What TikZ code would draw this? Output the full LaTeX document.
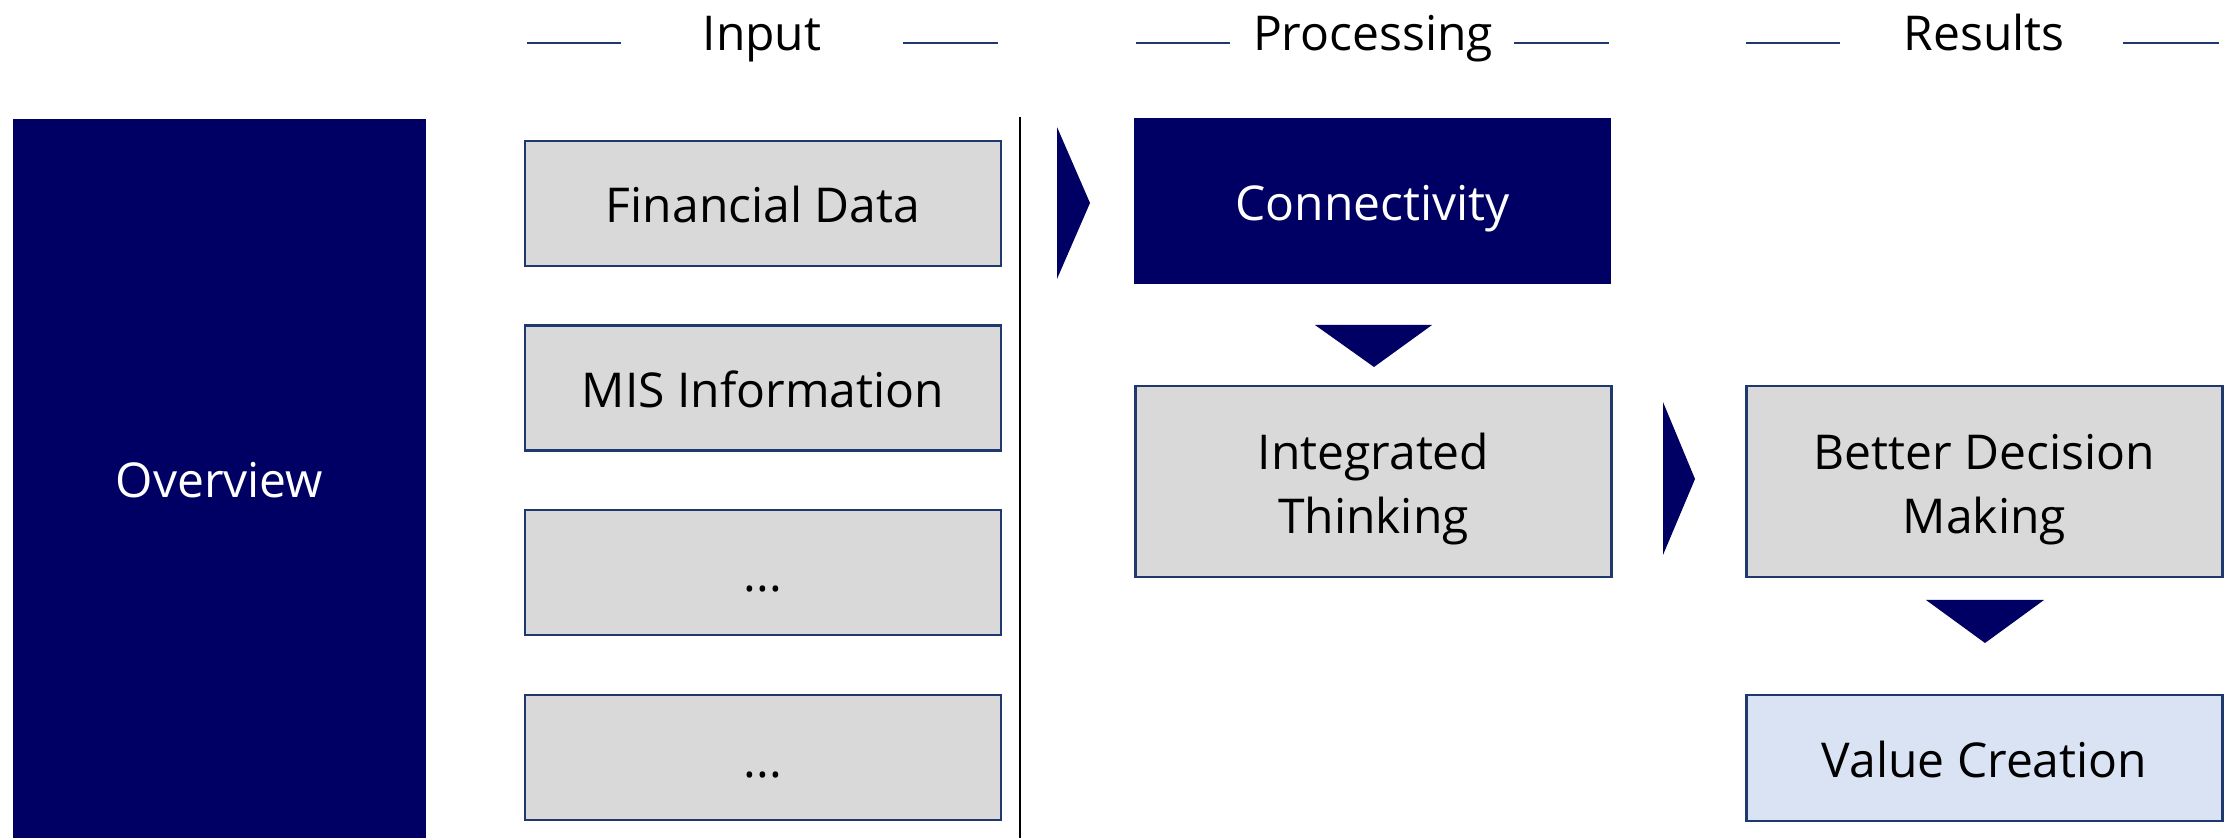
\documentclass[tikz,border=0pt]{standalone}
\usepackage{fontspec}
\setmainfont{Open Sans}
\usetikzlibrary{positioning}
\definecolor{navy}{RGB}{0,0,100}
\definecolor{boxgray}{RGB}{217,217,217}
\definecolor{boxline}{RGB}{31,56,110}
\definecolor{valueblue}{RGB}{218,227,243}
\tikzset{
        flownode/.style={rectangle, align=center, inner sep=0pt, text depth=0pt, text height=19.5pt, font=\fontsize{24}{32}\selectfont},
        % Two lines of text
        twolines/.style={text height=52pt},
        % Dark boxes
        node_dark/.style={flownode, fill=navy, text=white},
        % Grey boxes
        node_grey/.style={flownode, fill=boxgray, draw=boxline, line width=1.2pt, minimum width=238pt},
        % Result box
        node_value/.style={node_grey, fill=valueblue},
        % Column titles
        node_head/.style={inner sep=0pt, anchor=base, font=\fontsize{24}{32}\selectfont},
        head_line/.style={draw=boxline, line width=1.3pt},
        % Chevrons
        chevron/.style={fill=navy}
}
\begin{document}
\begin{tikzpicture}[x=0.5pt, y=-0.5pt]
    \useasboundingbox (0,0) rectangle (2233,838);
    % column titles
    \node[node_head] (input) at (762,51) {Input};
    \node[node_head] (proc) at (1373,51) {Processing};
    \node[node_head] (res) at (1984,51) {Results};
    \draw[head_line] (527,43) -- (621,43);
    \draw[head_line] (903,43) -- (998,43);
    \draw[head_line] (1136,43) -- (1230,43);
    \draw[head_line] (1514,43) -- (1609,43);
    \draw[head_line] (1746,43) -- (1840,43);
    \draw[head_line] (2123,43) -- (2219,43);
    % left block
    \node[node_dark, minimum width=206.5pt, minimum height=359.5pt] (overview) at (219.5,478.5) {Overview};
    % inputs
    \node[node_grey, minimum height=62.5pt] (fin) at (763,203.5) {Financial Data};
    \node[node_grey, minimum height=62.5pt] (mis) at (763,388) {MIS Information};
    \node[node_grey, minimum height=62.5pt] (more1) at (763,572.5) {...};
    \node[node_grey, minimum height=62.5pt] (more2) at (763,757.5) {...};
    \draw[line width=1pt] (1020,117) -- (1020,838);
    % processing
    \node[node_dark, minimum width=238.5pt, minimum height=83pt] (conn) at (1372.5,201) {Connectivity};
    \node[node_grey, twolines, minimum height=95.5pt] (integ) at (1373.5,481.5) {Integrated\\Thinking};
    % results
    \node[node_grey, twolines, minimum height=95.5pt] (better) at (1984.5,481.5) {Better Decision\\Making};
    \node[node_value, minimum height=63pt] (value) at (1984.5,758) {Value Creation};
    % chevrons
    \fill[chevron] (1057,127) -- (1090,203) -- (1057,279) -- cycle;
    \fill[chevron] (1315,325) -- (1432,325) -- (1374,367) -- cycle;
    \fill[chevron] (1663,402) -- (1695,479) -- (1663,555) -- cycle;
    \fill[chevron] (1926,600) -- (2044,600) -- (1985,643) -- cycle;
\end{tikzpicture}
\end{document}
